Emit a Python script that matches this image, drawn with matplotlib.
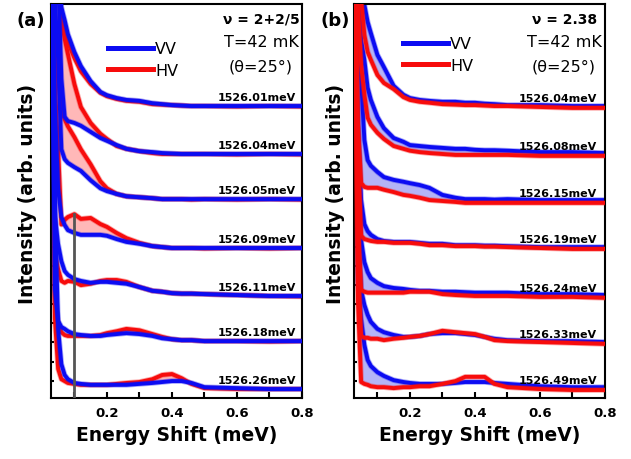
import numpy as np
import matplotlib
matplotlib.use('Agg')
import matplotlib.pyplot as plt
import matplotlib.patheffects as pe
from matplotlib.lines import Line2D

# energy shift grid (meV) shared by all spectra
energy = [0.03, 0.04, 0.05, 0.06, 0.07, 0.08, 0.10, 0.12, 0.15, 0.18, 0.20, 0.23,
          0.26, 0.30, 0.34, 0.37, 0.40, 0.43, 0.46, 0.50, 0.60, 0.70, 0.80]

# panel (a): nu = 2+2/5, spectra listed bottom -> top, values relative to own offset
a_labels = ['1526.26meV', '1526.18meV', '1526.11meV', '1526.09meV',
            '1526.05meV', '1526.04meV', '1526.01meV']
a_offsets = [0.0, 1.02, 1.98, 3.0, 4.04, 5.0, 6.02]
a_vv = [
    [9.2, 4.0, 1.28, 0.53, 0.30, 0.21, 0.13, 0.11, 0.09, 0.09, 0.09, 0.09, 0.09, 0.11, 0.13, 0.15, 0.17, 0.17, 0.13, 0.04, 0.02, 0.0, 0.0],
    [8.2, 1.1, 0.43, 0.30, 0.26, 0.21, 0.15, 0.13, 0.11, 0.11, 0.13, 0.15, 0.17, 0.15, 0.11, 0.06, 0.04, 0.02, 0.02, 0.0, 0.0, 0.0, 0.0],
    [7.2, 1.7, 1.1, 0.74, 0.53, 0.45, 0.36, 0.32, 0.28, 0.30, 0.30, 0.28, 0.26, 0.19, 0.11, 0.09, 0.06, 0.05, 0.05, 0.04, 0.02, 0.0, 0.0],
    [6.2, 3.0, 1.26, 0.66, 0.49, 0.38, 0.32, 0.28, 0.28, 0.28, 0.26, 0.19, 0.13, 0.09, 0.04, 0.02, 0.0, 0.0, 0.0, 0.0, 0.0, 0.0, 0.0],
    [5.2, 4.2, 2.98, 1.06, 0.85, 0.77, 0.68, 0.60, 0.40, 0.23, 0.17, 0.11, 0.06, 0.04, 0.02, 0.0, 0.0, 0.0, 0.0, 0.0, 0.0, 0.0, 0.0],
    [5.0, 4.6, 3.8, 1.6, 0.79, 0.70, 0.66, 0.60, 0.47, 0.34, 0.28, 0.19, 0.11, 0.06, 0.04, 0.02, 0.01, 0.0, 0.0, 0.0, 0.0, 0.0, 0.0],
    [4.0, 3.5, 2.8, 2.1, 1.83, 1.53, 1.15, 0.85, 0.53, 0.30, 0.23, 0.17, 0.13, 0.11, 0.06, 0.04, 0.02, 0.01, 0.0, 0.0, 0.0, 0.0, 0.0],
]
a_hv = [
    [9.2, 1.5, 0.43, 0.21, 0.17, 0.13, 0.11, 0.09, 0.09, 0.09, 0.09, 0.11, 0.13, 0.15, 0.21, 0.30, 0.32, 0.23, 0.11, 0.02, 0.0, 0.0, 0.0],
    [8.2, 0.89, 0.36, 0.19, 0.13, 0.11, 0.11, 0.11, 0.11, 0.13, 0.17, 0.21, 0.26, 0.23, 0.15, 0.09, 0.04, 0.02, 0.02, 0.0, 0.0, -0.01, 0.0],
    [7.2, 0.9, 0.57, 0.32, 0.28, 0.32, 0.30, 0.23, 0.26, 0.32, 0.34, 0.34, 0.30, 0.19, 0.11, 0.09, 0.06, 0.05, 0.05, 0.04, 0.02, 0.0, -0.01],
    [6.2, 3.5, 2.1, 0.50, 0.60, 0.66, 0.72, 0.62, 0.64, 0.51, 0.45, 0.32, 0.21, 0.11, 0.04, 0.02, 0.0, 0.0, 0.0, -0.01, 0.0, -0.01, 0.0],
    [5.2, 4.0, 2.55, 1.91, 1.70, 1.55, 1.32, 1.06, 0.74, 0.38, 0.23, 0.11, 0.06, 0.04, 0.02, 0.0, 0.0, 0.0, -0.01, 0.0, -0.01, 0.0, -0.01],
    [5.0, 4.4, 3.7, 2.87, 2.45, 2.13, 1.49, 1.0, 0.66, 0.43, 0.32, 0.17, 0.11, 0.06, 0.02, 0.0, 0.0, 0.0, 0.0, 0.0, -0.01, 0.0, -0.01],
    [4.0, 3.3, 2.6, 1.9, 1.66, 1.36, 1.02, 0.74, 0.47, 0.28, 0.21, 0.15, 0.11, 0.09, 0.04, 0.03, 0.02, 0.01, 0.0, 0.0, -0.01, 0.0, -0.01],
]

# panel (b): nu = 2.38
b_labels = ['1526.49meV', '1526.33meV', '1526.24meV', '1526.19meV',
            '1526.15meV', '1526.08meV', '1526.04meV']
b_offsets = [0.0, 0.98, 1.96, 3.0, 3.98, 4.98, 6.0]
b_vv = [
    [9.2, 2.3, 1.47, 0.94, 0.62, 0.49, 0.36, 0.28, 0.19, 0.15, 0.13, 0.11, 0.11, 0.11, 0.13, 0.15, 0.15, 0.15, 0.13, 0.11, 0.06, 0.04, 0.04],
    [8.2, 2.4, 1.13, 0.81, 0.60, 0.45, 0.30, 0.23, 0.17, 0.13, 0.13, 0.15, 0.19, 0.21, 0.21, 0.19, 0.17, 0.13, 0.09, 0.06, 0.04, 0.04, 0.02],
    [7.2, 2.06, 1.21, 0.74, 0.53, 0.40, 0.30, 0.23, 0.19, 0.17, 0.15, 0.13, 0.13, 0.11, 0.11, 0.10, 0.09, 0.09, 0.09, 0.09, 0.06, 0.06, 0.04],
    [6.2, 2.72, 1.02, 0.51, 0.36, 0.28, 0.19, 0.15, 0.13, 0.13, 0.13, 0.11, 0.09, 0.09, 0.06, 0.06, 0.06, 0.05, 0.05, 0.04, 0.02, 0.02, 0.02],
    [5.2, 4.2, 2.6, 1.32, 0.89, 0.77, 0.64, 0.53, 0.47, 0.43, 0.40, 0.36, 0.30, 0.15, 0.09, 0.06, 0.06, 0.06, 0.05, 0.06, 0.04, 0.04, 0.04],
    [5.2, 3.6, 2.45, 2.02, 1.43, 1.17, 0.81, 0.57, 0.36, 0.28, 0.21, 0.19, 0.17, 0.15, 0.13, 0.13, 0.11, 0.10, 0.10, 0.09, 0.06, 0.06, 0.04],
    [4.2, 3.4, 2.7, 2.17, 1.81, 1.57, 1.11, 0.85, 0.45, 0.26, 0.19, 0.15, 0.13, 0.11, 0.11, 0.09, 0.09, 0.07, 0.06, 0.04, 0.04, 0.02, 0.02],
]
b_hv = [
    [9.2, 1.9, 0.15, 0.11, 0.09, 0.06, 0.04, 0.04, 0.02, 0.04, 0.04, 0.06, 0.06, 0.11, 0.17, 0.26, 0.26, 0.26, 0.11, 0.04, 0.0, -0.02, -0.02],
    [8.2, 1.77, 0.15, 0.11, 0.11, 0.09, 0.09, 0.06, 0.09, 0.11, 0.13, 0.15, 0.19, 0.26, 0.23, 0.21, 0.19, 0.13, 0.06, 0.04, 0.02, 0.0, -0.02],
    [7.2, 1.64, 0.15, 0.11, 0.09, 0.09, 0.09, 0.09, 0.09, 0.09, 0.11, 0.11, 0.11, 0.06, 0.04, 0.03, 0.02, 0.02, 0.02, 0.02, 0.0, 0.0, -0.02],
    [6.2, 2.1, 0.26, 0.19, 0.17, 0.15, 0.13, 0.13, 0.11, 0.11, 0.11, 0.09, 0.06, 0.06, 0.04, 0.04, 0.04, 0.03, 0.03, 0.02, 0.0, -0.02, -0.02],
    [5.2, 1.7, 0.40, 0.32, 0.30, 0.30, 0.30, 0.26, 0.21, 0.15, 0.13, 0.09, 0.04, 0.02, 0.0, -0.02, -0.02, -0.02, -0.02, -0.02, -0.02, -0.02, -0.02],
    [5.2, 3.2, 1.91, 1.28, 0.79, 0.64, 0.47, 0.34, 0.19, 0.13, 0.09, 0.06, 0.04, 0.02, 0.0, 0.0, 0.0, 0.0, 0.0, 0.0, -0.02, -0.02, -0.02],
    [4.2, 3.3, 2.28, 1.53, 1.17, 1.0, 0.68, 0.51, 0.38, 0.21, 0.15, 0.11, 0.09, 0.06, 0.05, 0.04, 0.04, 0.03, 0.02, 0.02, 0.0, -0.02, -0.02],
]

marker_energy = 0.1   # grey line in panel (a)

BLUE = '#0c0cf2'
RED = '#f70c0c'

x = np.array(energy)
fig = plt.figure(figsize=(6.31, 4.60), dpi=100)
ax_a = fig.add_axes([0.0808, 0.1326, 0.3978, 0.8565])
ax_b = fig.add_axes([0.561, 0.1326, 0.3978, 0.8565])


def soft(color):
    # slightly blurred edge like the scanned figure
    return [pe.Stroke(linewidth=4.0, foreground=color, alpha=0.35), pe.Normal()]


def draw_panel(ax, vv, hv, offsets, labels, fill_color, fill_red, red_on_top, label_x):
    for v, h, off, lab in zip(vv, hv, offsets, labels):
        v = np.array(v) + off
        h = np.array(h) + off
        if fill_red:
            ax.fill_between(x, v, h, where=h > v, interpolate=True, color=fill_color, lw=0, zorder=1)
        else:
            ax.fill_between(x, v, h, where=v > h, interpolate=True, color=fill_color, lw=0, zorder=1)
        ax.plot(x, v, color=BLUE, lw=2.8, zorder=3 if not red_on_top else 2,
                solid_joinstyle='round', path_effects=soft(BLUE))
        ax.plot(x, h, color=RED, lw=2.8, zorder=3 if red_on_top else 2,
                solid_joinstyle='round', path_effects=soft(RED))
        ax.text(label_x, off + 0.13, lab, ha='right', va='baseline', fontsize=8,
                fontweight='bold', zorder=5)

    ax.set_xlim(0.028, 0.8)
    ax.set_ylim(-0.19, 8.19)
    ax.set_xticks([0.2, 0.4, 0.6, 0.8])
    ax.set_xticks([0.1, 0.3, 0.5, 0.7], minor=True)
    ax.set_yticks(np.arange(0.18, 8.19, 0.406))
    ax.set_yticklabels([])
    ax.tick_params(axis='x', which='both', direction='in', length=4.5, width=1.5,
                   labelsize=9.5, pad=6)
    ax.tick_params(axis='y', direction='in', length=2.5, width=1.5)
    for lab in ax.get_xticklabels():
        lab.set_fontweight('bold')
    for sp in ax.spines.values():
        sp.set_linewidth(1.5)
    ax.set_xlabel('Energy Shift (meV)', fontsize=13.5, fontweight='bold')
    ax.xaxis.set_label_coords(0.5, -0.068)
    ax.set_ylabel('Intensity (arb. units)', fontsize=13.5, fontweight='bold')


draw_panel(ax_a, a_vv, a_hv, a_offsets, a_labels, '#ffb8b8', True, False, 0.7815)
draw_panel(ax_b, b_vv, b_hv, b_offsets, b_labels, '#b4b4f6', False, True, 0.775)
ax_a.yaxis.set_label_coords(-0.054, 0.52)
ax_b.yaxis.set_label_coords(-0.034, 0.52)

# grey marker line
ax_a.axvline(marker_energy, ymin=0, ymax=0.467, color='#555555', lw=2.0, zorder=4)

# annotations
for ax, nu in [(ax_a, '\u03bd = 2+2/5'), (ax_b, '\u03bd = 2.38')]:
    ax.text(0.837, 0.962, nu, transform=ax.transAxes, ha='center', va='center',
            fontsize=10, fontweight='bold')
    ax.text(0.837, 0.904, 'T=42 mK', transform=ax.transAxes, ha='center', va='center', fontsize=11.5)
    ax.text(0.837, 0.843, '(\u03b8=25\u00b0)', transform=ax.transAxes, ha='center', va='center', fontsize=11.5)

handles = [Line2D([], [], color=BLUE, lw=3.6), Line2D([], [], color=RED, lw=3.6)]
ax_a.legend(handles, ['VV', 'HV'], loc='upper left', bbox_to_anchor=(0.227, 0.905),
            frameon=False, fontsize=11.5, handlelength=2.8, handletextpad=0.15,
            borderpad=0, borderaxespad=0, labelspacing=0.4)
ax_b.legend(handles, ['VV', 'HV'], loc='upper left', bbox_to_anchor=(0.195, 0.918),
            frameon=False, fontsize=11.5, handlelength=2.8, handletextpad=0.15,
            borderpad=0, borderaxespad=0, labelspacing=0.4)

fig.text(16 / 631, 1 - 12 / 460, '(a)', fontsize=13, fontweight='bold', va='top', ha='left')
fig.text(320 / 631, 1 - 12 / 460, '(b)', fontsize=13, fontweight='bold', va='top', ha='left')

fig.savefig('out.png', dpi=100)
